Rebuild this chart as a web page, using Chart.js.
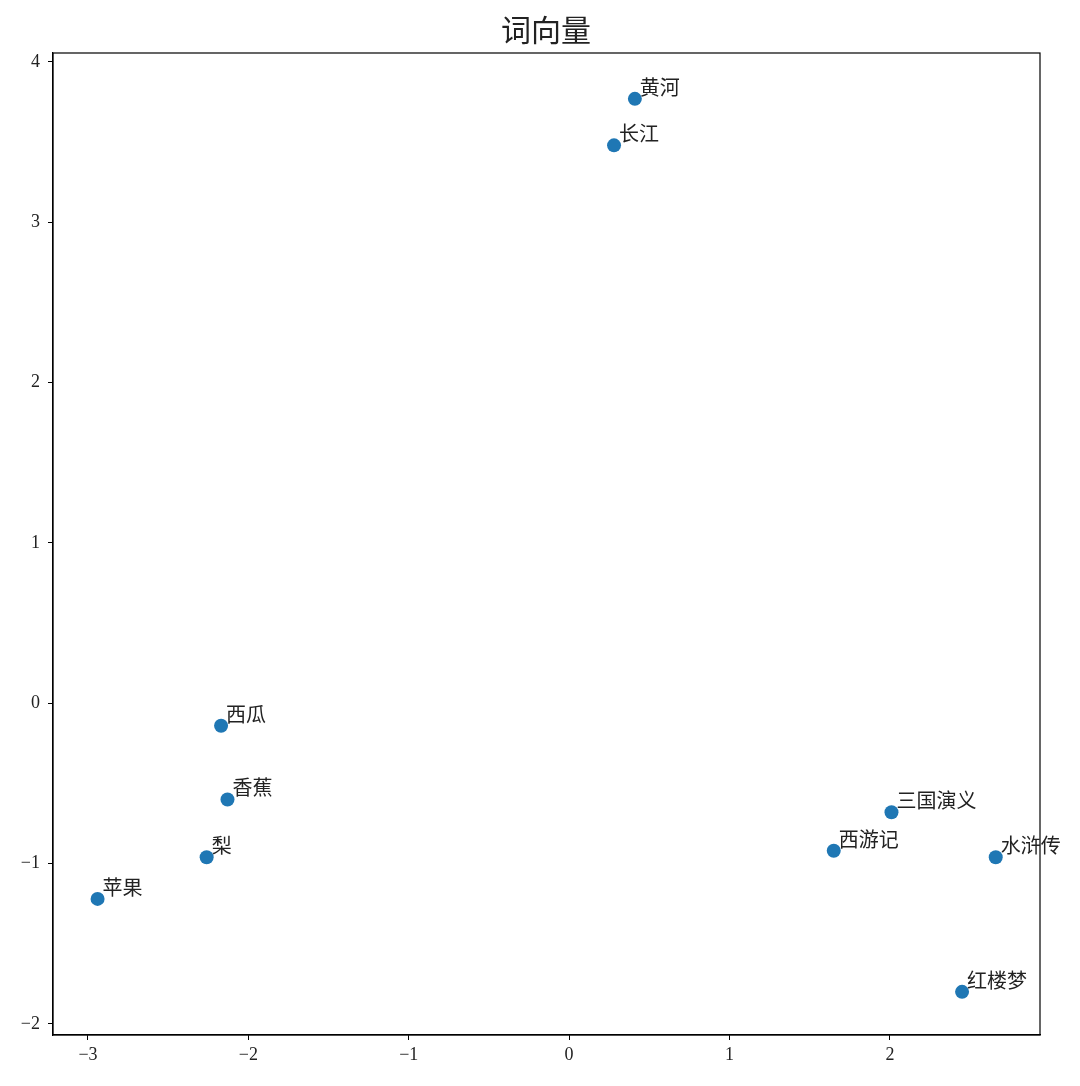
<!DOCTYPE html>
<html>
<head>
<meta charset="utf-8">
<script src="https://cdn.jsdelivr.net/npm/chart.js@4/dist/chart.umd.min.js"></script>
<style>
  html, body { margin: 0; padding: 0; background: #fff; }
  #wrap { width: 1080px; height: 1086px; }
</style>
</head>
<body>
<div id="wrap"><canvas id="canvas" width="1080" height="1086"></canvas></div>
<script>
// words and their 2d vector coordinates
var words = ['黄河', '长江', '西瓜', '香蕉', '梨', '苹果', '三国演义', '西游记', '水浒传', '红楼梦'];
var xs = [0.41, 0.28, -2.17, -2.13, -2.26, -2.94, 2.01, 1.65, 2.66, 2.45];
var ys = [3.77, 3.48, -0.14, -0.60, -0.96, -1.22, -0.68, -0.92, -0.96, -1.80];
var xTicks = [-3, -2, -1, 0, 1, 2];
var yTicks = [-2, -1, 0, 1, 2, 3, 4];

var points = xs.map(function (x, i) { return { x: x, y: ys[i] }; });

var tickFont = { family: '"Liberation Serif", "DejaVu Serif", serif', size: 18 };

function fmt(v) { return String(v).replace('-', '\u2212'); }

// frame around the plot + word labels next to each point
var extras = {
  id: 'extras',
  afterDatasetsDraw: function (chart) {
    var ctx = chart.ctx, a = chart.chartArea;
    var sx = chart.scales.x, sy = chart.scales.y;
    ctx.save();
    ctx.strokeStyle = '#000';
    ctx.lineWidth = 1.2;
    ctx.strokeRect(a.left, a.top, a.right - a.left, a.bottom - a.top);
    ctx.fillStyle = '#222';
    ctx.font = '20px "Noto Sans CJK SC", sans-serif';
    ctx.textAlign = 'left';
    ctx.textBaseline = 'alphabetic';
    words.forEach(function (w, i) {
      ctx.fillText(w, sx.getPixelForValue(xs[i]) + 5, sy.getPixelForValue(ys[i]) - 4);
    });
    ctx.restore();
  }
};

var ctx = document.getElementById('canvas');
window.myChart = new Chart(ctx, {
  type: 'scatter',
  data: {
    datasets: [{
      data: points,
      backgroundColor: '#1f77b4',
      borderColor: '#1f77b4',
      borderWidth: 0,
      pointRadius: 7,
      pointHoverRadius: 7
    }]
  },
  options: {
    responsive: false,
    animation: false,
    layout: { padding: { left: 12, right: 0, top: 0, bottom: 0 } },
    plugins: {
      legend: { display: false },
      tooltip: { enabled: false },
      title: {
        display: true,
        text: '词向量',
        color: '#222',
        font: { family: '"Noto Sans CJK SC", sans-serif', size: 30, weight: 'normal' },
        padding: { top: 12, bottom: 5 }
      }
    },
    scales: {
      x: {
        type: 'linear',
        min: -3.218,
        max: 2.936,
        afterBuildTicks: function (s) { s.ticks = xTicks.map(function (v) { return { value: v }; }); },
        afterFit: function (s) { s.height = 51; },
        ticks: { color: '#222', font: tickFont, padding: 4, maxRotation: 0, callback: fmt },
        grid: { display: true, drawOnChartArea: false, drawTicks: true, tickLength: 5, tickColor: '#000' },
        border: { display: true, color: '#000', width: 1.2 }
      },
      y: {
        type: 'linear',
        min: -2.069,
        max: 4.056,
        afterBuildTicks: function (s) { s.ticks = yTicks.map(function (v) { return { value: v }; }); },
        afterFit: function (s) { s.width = 41; },
        ticks: { color: '#222', font: tickFont, padding: 8, callback: fmt },
        grid: { display: true, drawOnChartArea: false, drawTicks: true, tickLength: 5, tickColor: '#000' },
        border: { display: true, color: '#000', width: 1.2 }
      },
      // empty right-hand margin so the title centres over the plot
      yRight: {
        type: 'linear',
        position: 'right',
        min: -2.069,
        max: 4.056,
        afterFit: function (s) { s.width = 40; },
        ticks: { display: false },
        grid: { display: false },
        border: { display: false }
      }
    }
  },
  plugins: [extras]
});
</script>
</body>
</html>
